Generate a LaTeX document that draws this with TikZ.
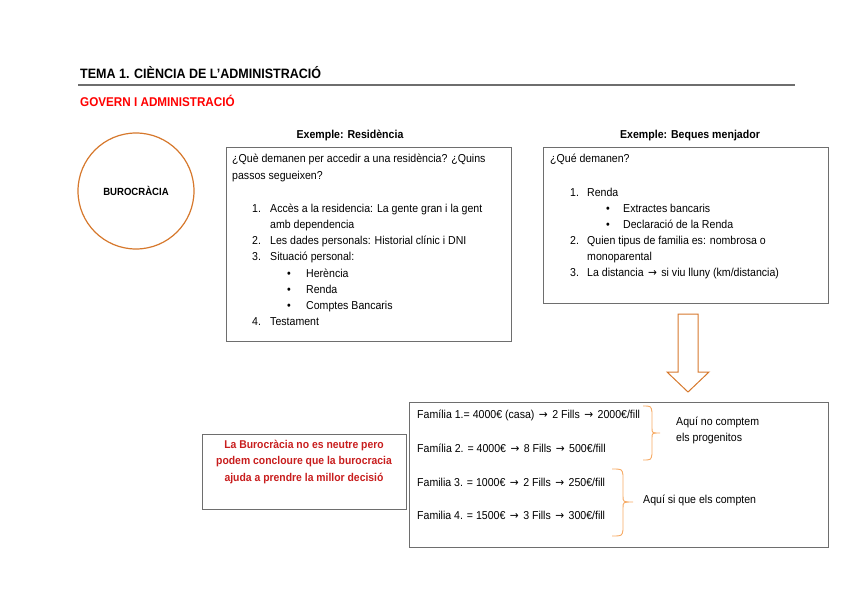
\documentclass[tikz,border=0pt]{standalone}
\usepackage{fontspec}
\setmainfont[FakeStretch=0.92]{Liberation Sans}
\newfontfamily\arrowfont[FakeStretch=0.92]{DejaVu Sans}
\definecolor{darkorange}{RGB}{214,120,44}
\definecolor{braceorange}{RGB}{246,170,100}
\definecolor{boxgray}{RGB}{110,110,110}
\definecolor{redtext}{RGB}{200,30,30}
\newcommand{\ar}{\hspace{1.5pt}{\arrowfont →}\hspace{1.5pt}}
\begin{document}
\begin{tikzpicture}[x=1pt,y=-1pt,
  txt/.style={anchor=base west,inner sep=0pt,font=\fontsize{11.5}{13}\selectfont},
  ttl/.style={anchor=base,inner sep=0pt,font=\fontsize{11.5}{13}\selectfont\bfseries},
  frame/.style={draw=boxgray,line width=0.8pt},
  obrace/.style={draw=braceorange,line width=0.9pt}]
\useasboundingbox (0,0) rectangle (848,599);
% header
\node[anchor=base west,inner sep=0pt,font=\fontsize{13.6}{16}\selectfont\bfseries] (head) at (80,79) {TEMA 1. CIÈNCIA DE L’ADMINISTRACIÓ};
\draw[boxgray,line width=1.2pt] (78,85) -- (795,85);
\node[anchor=base west,inner sep=0pt,text=red,font=\fontsize{12.7}{14}\selectfont\bfseries] (sub) at (80,107) {GOVERN I ADMINISTRACIÓ};
% circle
\node[circle,draw=darkorange,line width=1.2pt,minimum size=116pt,inner sep=0pt,font=\fontsize{10.4}{12}\selectfont\bfseries] (buro) at (136,191) {BUROCRÀCIA};
% box 1
\node[ttl] (t1) at (350,139) {Exemple: Residència};
\draw[frame] (226,147) rectangle (511,341);
\node[txt] (a1) at (232,162) {¿Què demanen per accedir a una residència? ¿Quins};
\node[txt] (a2) at (232,179) {passos segueixen?};
\node[txt] (n1) at (252,212) {1.};
\node[txt] (i1) at (270,212) {Accès a la residencia: La gente gran i la gent};
\node[txt] (i1b) at (270,228) {amb dependencia};
\node[txt] (n2) at (252,244) {2.};
\node[txt] (i2) at (270,244) {Les dades personals: Historial clínic i DNI};
\node[txt] (n3) at (252,260) {3.};
\node[txt] (i3) at (270,260) {Situació personal:};
\node[txt] (b1) at (287,277) {•};
\node[txt] (j1) at (306,277) {Herència};
\node[txt] (b2) at (287,293) {•};
\node[txt] (j2) at (306,293) {Renda};
\node[txt] (b3) at (287,309) {•};
\node[txt] (j3) at (306,309) {Comptes Bancaris};
\node[txt] (n4) at (252,325) {4.};
\node[txt] (i4) at (270,325) {Testament};
% box 2
\node[ttl] (t2) at (690,139) {Exemple: Beques menjador};
\draw[frame] (543,147) rectangle (828,303);
\node[txt] (c1) at (550,162) {¿Qué demanen?};
\node[txt] (m1) at (570,196) {1.};
\node[txt] (k1) at (587,196) {Renda};
\node[txt] (d1) at (606,212) {•};
\node[txt] (l1) at (623,212) {Extractes bancaris};
\node[txt] (d2) at (606,228) {•};
\node[txt] (l2) at (623,228) {Declaració de la Renda};
\node[txt] (m2) at (570,244) {2.};
\node[txt] (k2) at (587,244) {Quien tipus de familia es: nombrosa o};
\node[txt] (k2b) at (587,260) {monoparental};
\node[txt] (m3) at (570,276) {3.};
\node[txt] (k3) at (587,276) {La distancia \ar{} si viu lluny (km/distancia)};
% big arrow
\draw[darkorange,line width=1pt,line join=miter] (678,314) -- (698,314) -- (698,372) -- (709,372) -- (688,392) -- (667,372) -- (678,372) -- cycle;
% box 3
\draw[frame] (409,402) rectangle (828,547);
\node[txt] (f1) at (417,418) {Família 1.= 4000€ (casa) \ar{} 2 Fills \ar{} 2000€/fill};
\node[txt] (f2) at (417,452) {Família 2. = 4000€ \ar{} 8 Fills \ar{} 500€/fill};
\node[txt] (f3) at (417,486) {Familia 3. = 1000€ \ar{} 2 Fills \ar{} 250€/fill};
\node[txt] (f4) at (417,519) {Familia 4. = 1500€ \ar{} 3 Fills \ar{} 300€/fill};
\draw[obrace] (643,406) .. controls (651,406) .. (652,412) -- (652,428) .. controls (652,433) .. (660,433) .. controls (652,433) .. (652,438) -- (652,454) .. controls (651,460) .. (643,460);
\draw[obrace] (612,469) .. controls (622,469) .. (623,475) -- (623,496) .. controls (623,502) .. (633,502) .. controls (623,502) .. (623,508) -- (623,530) .. controls (622,536) .. (612,536);
\node[txt] (g1) at (676,425) {Aquí no comptem};
\node[txt] (g2) at (676,441) {els progenitos};
\node[txt] (g3) at (643,503) {Aquí si que els compten};
% red box
\draw[frame] (202,434) rectangle (406,509);
\node[anchor=north,inner sep=0pt,align=center,text=redtext,font=\fontsize{11.3}{16.5}\selectfont\bfseries] (red) at (304,440) {La Burocràcia no es neutre pero\\podem concloure que la burocracia\\ajuda a prendre la millor decisió};
\end{tikzpicture}
\end{document}
